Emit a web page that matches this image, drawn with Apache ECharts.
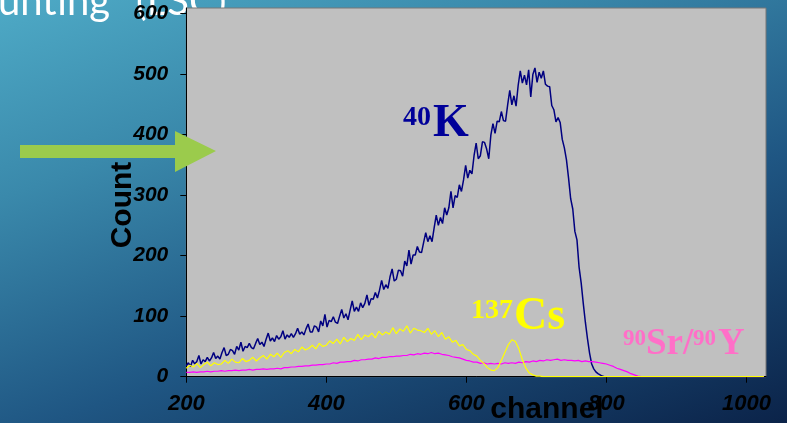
<!DOCTYPE html>
<html><head><meta charset="utf-8">
<script src="https://cdn.jsdelivr.net/npm/echarts@6/dist/echarts.min.js"></script>
<style>
html,body{margin:0;padding:0;width:787px;height:423px;overflow:hidden;}
#c{width:787px;height:423px;background:linear-gradient(160deg,#4eaac6 0%,#3a89ab 28%,#1f5683 62%,#0b2349 100%);}
</style></head><body><div id="c"></div>
<script>
// channel numbers for the 40K spectrum
const kChannels = [
 200,203,206,209,212,215,218,221,224,227,
 230,233,236,239,242,245,248,251,254,257,
 260,263,266,269,272,275,278,281,284,287,
 290,293,296,299,302,305,308,311,314,317,
 320,323,326,329,332,335,338,341,344,347,
 350,353,356,359,362,365,368,371,374,377,
 380,383,386,389,392,395,398,401,404,407,
 410,413,416,419,422,425,428,431,434,437,
 440,443,446,449,452,455,458,461,464,467,
 470,473,476,479,482,485,488,491,494,497,
 500,503,506,509,512,515,518,521,524,527,
 530,533,536,539,542,545,548,551,554,557,
 560,563,566,569,572,575,578,581,584,587,
 590,593,596,599,602,605,608,611,614,617,
 620,623,626,629,632,635,638,641,644,647,
 650,653,656,659,662,665,668,671,674,677,
 680,683,686,689,692,695,698,701,704,707,
 710,713,716,719,722,725,728,731,734,737,
 740,743,746,749,752,755,758,761,764,767,
 770,773,776,779,782,785,788,791,794,797,
 800,1025
];
// 40K spectrum counts
const k40 = [
 18,23,17,27,21,25,35,21,28,25,
 32,26,31,40,30,34,29,40,48,35,
 37,45,43,37,50,44,57,42,50,48,
 55,48,46,55,63,53,57,50,62,72,
 59,64,58,68,62,66,76,62,69,65,
 71,65,71,80,70,74,69,79,87,74,
 74,84,82,74,92,84,103,82,93,91,
 99,90,88,100,111,97,104,94,110,125,
 108,115,108,122,114,121,135,118,129,128,
 139,130,143,159,144,152,146,165,178,158,
 161,176,175,166,191,183,209,186,201,201,
 215,206,205,222,238,223,233,223,246,267,
 250,263,253,279,267,279,306,279,299,296,
 317,306,325,349,328,341,335,365,386,360,
 365,388,387,376,360,399,418,402,422,421,
 438,423,422,449,473,449,464,447,481,505,
 485,498,482,507,462,499,510,486,503,493,
 505,483,480,479,448,441,421,428,420,392,
 378,358,328,294,277,240,226,181,155,121,
 90,63,39,21,13,8,5,3,1,0,
 0,0
];
// channel numbers for the 137Cs and 90Sr/90Y spectra
const channels = [
 200,205,210,215,220,225,230,235,240,245,
 250,255,260,265,270,275,280,285,290,295,
 300,305,310,315,320,325,330,335,340,345,
 350,355,360,365,370,375,380,385,390,395,
 400,405,410,415,420,425,430,435,440,445,
 450,455,460,465,470,475,480,485,490,495,
 500,505,510,515,520,525,530,535,540,545,
 550,555,560,565,570,575,580,585,590,595,
 600,605,610,615,620,625,630,635,640,645,
 650,655,660,665,670,675,680,685,690,695,
 700,705,710,715,720,725,730,735,740,745,
 750,755,760,765,770,775,780,785,790,795,
 800,805,810,815,820,825,830,835,840,845,
 850,855,860,865,870,875,880,885,890,895,
 900,905,910,915,920,925,930,935,940,945,
 950,955,960,965,970,975,980,985,990,995,
 1000,1005,1010,1015,1020,1025
];
// 137Cs spectrum counts
const cs137 = [
 14,19,16,22,15,20,24,18,23,20,
 21,27,22,29,24,23,30,25,27,32,
 26,31,35,29,37,33,39,32,40,43,
 38,45,41,49,44,47,52,46,55,50,
 52,59,55,62,54,65,58,63,60,70,
 61,69,66,72,64,75,69,74,70,81,
 71,79,75,84,72,80,77,76,73,80,
 70,76,66,73,62,66,57,60,51,53,
 45,43,37,34,27,22,15,11,10,15,
 27,40,53,61,58,46,28,14,6,3,
 1,1,0,0,0,0,0,0,0,0,
 0,0,0,0,0,0,0,0,0,0,
 0,0,0,0,0,0,0,0,0,0,
 0,0,0,0,0,0,0,0,0,0,
 0,0,0,0,0,0,0,0,0,0,
 0,0,0,0,0,0,0,0,0,0,
 0,0,0,0,0,0
];
// 90Sr/90Y spectrum counts
const sr90 = [
 7,7,8,7,8,8,9,8,9,9,
 10,9,10,10,11,10,11,11,12,11,
 12,12,13,12,13,13,14,13,15,15,
 16,16,17,17,18,18,19,19,20,20,
 21,21,23,22,24,24,25,25,27,26,
 28,28,29,29,31,30,32,32,33,33,
 34,34,35,35,37,36,38,37,39,38,
 40,38,39,37,36,35,33,32,31,29,
 27,26,24,24,22,23,21,22,21,22,
 21,23,22,23,22,24,23,25,24,26,
 25,27,26,28,27,28,29,27,28,27,
 27,26,27,25,26,25,25,24,23,22,
 21,19,17,14,12,10,8,5,3,1,
 0,0,0,0,0,0,0,0,0,0,
 0,0,0,0,0,0,0,0,0,0,
 0,0,0,0,0,0,0,0,0,0,
 0,0,0,0,0,0
];
const xTickValues = [200,400,600,800,1000];
const yTickValues = [0,100,200,300,400,500,600];

const pairs = (xs, ys) => xs.map((c,i)=>[c,ys[i]]);
const axisFont = '"Liberation Sans", Arial, sans-serif';
const serif = '"Liberation Serif", "Times New Roman", serif';
const titleFont = 'Lato, "Open Sans", sans-serif';

const chart = echarts.init(document.getElementById('c'), null, {renderer:'canvas'});
const lab = (text, x, y, size, color) => ({
  type:'text', x:x, y:y, z:50, silent:true,
  style:{text:text, fill:color, fontSize:size, fontWeight:'bold', fontFamily:serif, align:'left', verticalAlign:'middle'}
});
chart.setOption({
  animation:false,
  backgroundColor:'transparent',
  grid:{left:186.3, right:21, top:8, bottom:46.3, containLabel:false, outerBoundsMode:'none',
        show:true, backgroundColor:'#c0c0c0', borderColor:'#777', borderWidth:1},
  xAxis:{
    type:'value', min:200, max:1028, interval:200,
    axisLine:{lineStyle:{color:'#000', width:1}},
    axisTick:{length:6, lineStyle:{color:'#000'}, customValues:xTickValues},
    splitLine:{show:false},
    axisLabel:{margin:16, color:'#000', fontSize:22, fontWeight:'bold', fontStyle:'italic', fontFamily:axisFont,
      customValues:xTickValues, formatter:v => (v % 200 === 0 ? String(v) : '')}
  },
  yAxis:{
    type:'value', min:0, max:609, interval:100,
    axisLine:{show:true, lineStyle:{color:'#000', width:1}},
    axisTick:{show:true, length:6, lineStyle:{color:'#000'}, customValues:yTickValues},
    splitLine:{show:false},
    axisLabel:{margin:18, color:'#000', fontSize:21, fontWeight:'bold', fontStyle:'italic', fontFamily:axisFont,
      customValues:yTickValues, formatter:v => (v % 100 === 0 ? String(v) : '')}
  },
  graphic:[
    {type:'text', x:-2, y:2.5, z:-10, silent:true,
     style:{text:'unting', fill:'#ffffff', fontSize:40, fontWeight:'normal', fontFamily:titleFont, verticalAlign:'middle'}},
    {type:'text', x:136, y:2.5, z:-10, silent:true,
     style:{text:'(LSC)', fill:'#ffffff', fontSize:40, fontWeight:'normal', fontFamily:titleFont, verticalAlign:'middle'}},
    {type:'polygon', z:100, silent:true,
     shape:{points:[[20,145],[175,145],[175,131],[216,151],[175,172],[175,158],[20,158]]},
     style:{fill:'#9bcb4c'}},
    {type:'text', x:547, y:409.6, z:60, silent:true,
     style:{text:'channel', fill:'#000', fontSize:30, fontWeight:'bold', fontFamily:axisFont, align:'center', verticalAlign:'middle'}},
    {type:'text', x:122.6, y:205, rotation:Math.PI/2, z:60, silent:true,
     style:{text:'Count', fill:'#000', fontSize:30, fontWeight:'bold', fontFamily:axisFont, align:'center', verticalAlign:'middle'}},
    lab('40', 403, 117.5, 28, '#000099'),
    lab('K', 433, 124.4, 46, '#000099'),
    lab('137', 471, 310.5, 28, '#ffff00'),
    lab('Cs', 514, 317.4, 46, '#ffff00'),
    lab('90', 623, 338.7, 23, '#ff6fc8'),
    lab('Sr/', 646, 344, 37, '#ff6fc8'),
    lab('90', 693, 338.7, 23, '#ff6fc8'),
    lab('Y', 718, 344, 37, '#ff6fc8')
  ],
  series:[
    {type:'line', name:'40K', data:pairs(kChannels, k40), showSymbol:false, symbol:'none', lineStyle:{color:'#000080', width:1.5}},
    {type:'line', name:'90Sr/90Y', data:pairs(channels, sr90), showSymbol:false, symbol:'none', lineStyle:{color:'#ff00ff', width:1.2}},
    {type:'line', name:'137Cs', data:pairs(channels, cs137), showSymbol:false, symbol:'none', lineStyle:{color:'#ffff00', width:1.2}}
  ]
});
</script></body></html>
